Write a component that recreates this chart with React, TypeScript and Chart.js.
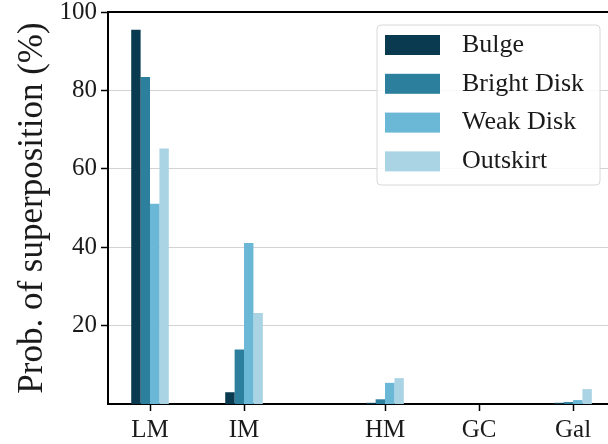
import React, { useEffect, useRef } from "react";
import { Chart, registerables } from "chart.js";

Chart.register(...registerables);

const categories = ["LM", "IM", "HM", "GC", "Gal"];
const xPositions = [0, 1, 2.5, 3.5, 4.5];
const yTicks = [20, 40, 60, 80, 100];

const seriesNames = ["Bulge", "Bright Disk", "Weak Disk", "Outskirt"];
const bulge = [95.5, 3.0, 0.3, 0, 0.3];
const brightDisk = [83.4, 13.9, 1.2, 0, 0.5];
const weakDisk = [51.1, 41.1, 5.4, 0, 1.0];
const outskirt = [65.2, 23.2, 6.6, 0, 3.8];
const colors = ["#093a4f", "#2d7f9e", "#6ab7d6", "#aad4e3"];

const FONT = '"Liberation Serif", "Times New Roman", serif';

const frameAndLegend = {
  id: "frameAndLegend",
  afterDraw(chart: any) {
    const { ctx, chartArea } = chart;
    ctx.save();
    // top spine
    ctx.strokeStyle = "#000";
    ctx.lineWidth = 2;
    ctx.beginPath();
    ctx.moveTo(chartArea.left - 1, chartArea.top);
    ctx.lineTo(chartArea.right, chartArea.top);
    ctx.stroke();

    // legend
    const boxW = 223;
    const boxH = 160;
    const rowH = 38.8;
    const boxLeft = chartArea.right - 8 - boxW;
    const boxTop = chartArea.top + 13;
    ctx.beginPath();
    if (ctx.roundRect) ctx.roundRect(boxLeft, boxTop, boxW, boxH, 4);
    else ctx.rect(boxLeft, boxTop, boxW, boxH);
    ctx.fillStyle = "rgba(255,255,255,0.85)";
    ctx.fill();
    ctx.strokeStyle = "#d8d8d8";
    ctx.lineWidth = 1;
    ctx.stroke();
    ctx.font = `26px ${FONT}`;
    ctx.textBaseline = "middle";
    ctx.textAlign = "left";
    chart.data.datasets.forEach((ds: any, i: number) => {
      const cy = boxTop + 20 + i * rowH;
      ctx.fillStyle = ds.backgroundColor;
      ctx.fillRect(boxLeft + 8, cy - 10, 55, 20);
      ctx.fillStyle = "#1a1a1a";
      ctx.fillText(ds.label, boxLeft + 85, cy);
    });
    ctx.restore();
  },
};

export default function App() {
  const ref = useRef<HTMLCanvasElement>(null);

  useEffect(() => {
    if (!ref.current) return;
    const seriesValues = [bulge, brightDisk, weakDisk, outskirt];
    const chart = new Chart(ref.current, {
      type: "bar",
      data: {
        datasets: seriesNames.map((name, i) => ({
          label: name,
          data: xPositions.map((x, j) => ({ x, y: seriesValues[i][j] })),
          backgroundColor: colors[i],
          borderWidth: 0,
          categoryPercentage: 0.4,
          barPercentage: 1.0,
        })),
      },
      options: {
        animation: false,
        responsive: false,
        layout: { padding: { top: 12, left: 0, right: 0, bottom: 0 } },
        plugins: { legend: { display: false }, tooltip: { enabled: false } },
        scales: {
          x: {
            type: "linear",
            min: -0.447,
            max: 4.872,
            offset: false,
            afterBuildTicks: (scale: any) => {
              scale.ticks = xPositions.map((v) => ({ value: v }));
            },
            afterFit: (scale: any) => {
              scale.height = 40;
              scale.paddingLeft = 0;
              scale.paddingRight = 0;
            },
            ticks: {
              autoSkip: false,
              maxRotation: 0,
              minRotation: 0,
              padding: 4,
              color: "#1a1a1a",
              font: { family: FONT, size: 25 },
              callback: (v: any) => {
                const idx = xPositions.indexOf(Number(v));
                return idx >= 0 ? categories[idx] : "";
              },
            },
            grid: {
              drawOnChartArea: false,
              tickLength: 7,
              tickColor: "#000",
              tickWidth: 1.5,
              offset: false,
            },
            border: { color: "#000", width: 2 },
          },
          y: {
            min: 0,
            max: 100,
            afterBuildTicks: (scale: any) => {
              scale.ticks = yTicks.map((v) => ({ value: v }));
            },
            afterFit: (scale: any) => {
              scale.width = 108;
              scale.paddingTop = 0;
              scale.paddingBottom = 0;
            },
            ticks: {
              padding: 4,
              color: "#1a1a1a",
              font: { family: FONT, size: 25 },
            },
            grid: {
              color: "#d3d3d3",
              lineWidth: 1,
              tickLength: 7,
              tickColor: "#000",
              tickWidth: 1.5,
            },
            border: { color: "#000", width: 2 },
            title: {
              display: true,
              text: "Prob. of superposition (%)",
              color: "#1a1a1a",
              font: { family: FONT, size: 35 },
              padding: { top: 12, bottom: 0 },
            },
          },
        },
      },
      plugins: [frameAndLegend],
    });
    return () => chart.destroy();
  }, []);

  return (
    <div style={{ position: "absolute", left: 0, top: 0, width: 608, height: 444, background: "#fff" }}>
      <canvas ref={ref} width={608} height={444} />
    </div>
  );
}
